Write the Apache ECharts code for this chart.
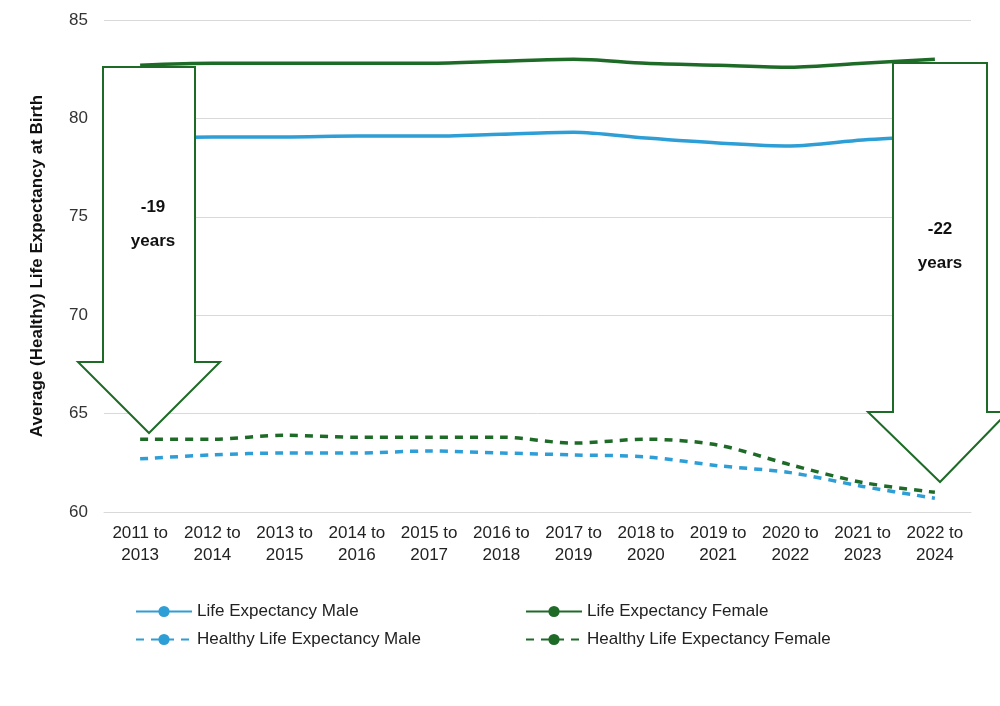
<!DOCTYPE html>
<html><head><meta charset="utf-8">
<script src="https://cdn.jsdelivr.net/npm/echarts@6/dist/echarts.min.js"></script>
<style>html,body{margin:0;padding:0;background:#fff}#c{width:1000px;height:706px}</style>
</head><body><div id="c"></div>
<script>
const categories = ['2011 to\n2013','2012 to\n2014','2013 to\n2015','2014 to\n2016','2015 to\n2017','2016 to\n2018','2017 to\n2019','2018 to\n2020','2019 to\n2021','2020 to\n2022','2021 to\n2023','2022 to\n2024'];
const leMale = [79.0,79.05,79.05,79.1,79.1,79.2,79.3,79.0,78.75,78.6,78.9,79.1];
const leFemale = [82.7,82.8,82.8,82.8,82.8,82.9,83.0,82.8,82.7,82.6,82.8,83.0];
const hleMale = [62.7,62.9,63.0,63.0,63.1,63.0,62.9,62.8,62.35,62.0,61.3,60.7];
const hleFemale = [63.7,63.7,63.9,63.8,63.8,63.8,63.5,63.7,63.4,62.4,61.5,61.0];
const blue = '#2E9ED6', green = '#1E6B28';
const font = 'Liberation Sans, Arial, sans-serif';
function ser(name, data, color, dashed){
  return {name, type:'line', data, smooth:0.3, symbol:'none', z:1,
    lineStyle:{color, width:3.5, type: dashed?[8,7]:'solid'}, itemStyle:{color}};
}
function leg(name, left, top){
  return {data:[name], left, top, itemWidth:56, itemHeight:14, itemGap:8,
    textStyle:{fontSize:17, color:'#222', fontFamily:font}};
}
function arrow(sl, sr, top, sb, hl, hr, tipX, tipY){
  return {type:'polygon', z:10, shape:{points:[[sl,top],[sr,top],[sr,sb],[hr,sb],[tipX,tipY],[hl,sb],[sl,sb]]},
    style:{fill:'#fff', stroke:green, lineWidth:2}};
}
const chart = echarts.init(document.getElementById('c'));
chart.setOption({
  animation:false,
  grid:{left:104, right:29, top:20, bottom:194},
  xAxis:{type:'category', data:categories, boundaryGap:true,
    axisLine:{lineStyle:{color:'#d9d9d9'}}, axisTick:{show:false},
    axisLabel:{interval:0, fontSize:17, color:'#222', fontFamily:font, lineHeight:22, margin:10}},
  yAxis:{type:'value', min:60, max:85, interval:5,
    name:'Average (Healthy) Life Expectancy at Birth', nameLocation:'middle', nameGap:58,
    nameTextStyle:{fontSize:17, fontWeight:'bold', color:'#111', fontFamily:font},
    axisLabel:{fontSize:17, color:'#333', fontFamily:font, margin:16},
    splitLine:{lineStyle:{color:'#d9d9d9'}}},
  legend:[
    leg('Life Expectancy Male',130,598),
    leg('Life Expectancy Female',520,598),
    leg('Healthy Life Expectancy Male',130,626),
    leg('Healthy Life Expectancy Female',520,626)
  ],
  series:[ser('Life Expectancy Male',leMale,blue,false), ser('Life Expectancy Female',leFemale,green,false),
          ser('Healthy Life Expectancy Male',hleMale,blue,true), ser('Healthy Life Expectancy Female',hleFemale,green,true)],
  graphic:[
    arrow(103,195,67,362,78,220,149,433),
    arrow(893,987,63,412,868,1008,940,482),
    {type:'text', z:11, x:153, y:190, style:{text:'-19\nyears', fill:'#111', font:'bold 17px '+font, align:'center', lineHeight:34}},
    {type:'text', z:11, x:940, y:212, style:{text:'-22\nyears', fill:'#111', font:'bold 17px '+font, align:'center', lineHeight:34}}
  ]
});
</script></body></html>
